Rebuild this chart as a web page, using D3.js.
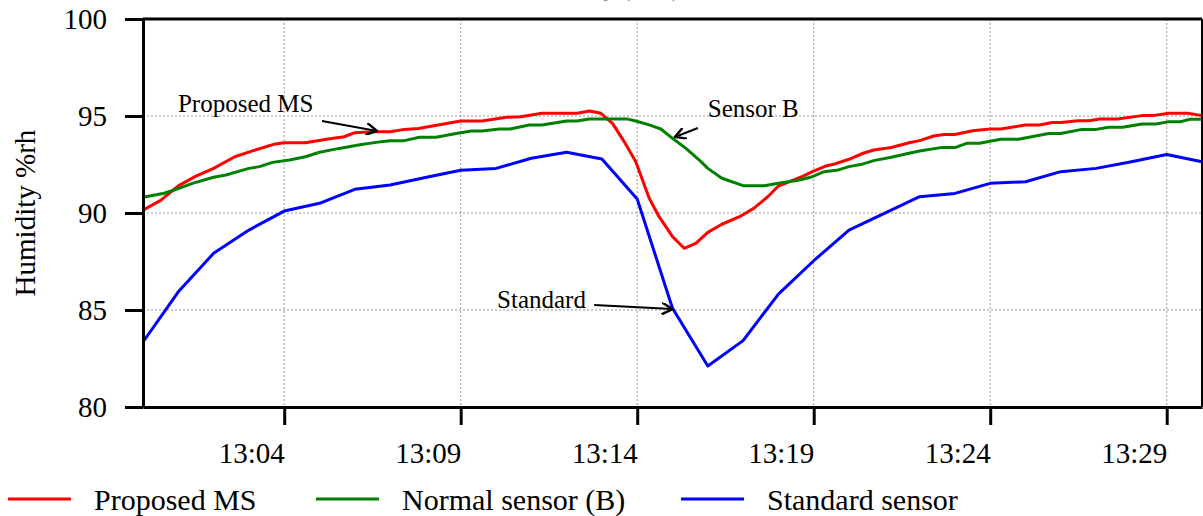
<!DOCTYPE html>
<html>
<head>
<meta charset="utf-8">
<script src="https://cdnjs.cloudflare.com/ajax/libs/d3/7.8.5/d3.min.js"></script>
<style>
  body { margin: 0; background: #fff; }
  svg text { font-family: "Liberation Serif", "Times New Roman", serif; }
</style>
</head>
<body>
<svg id="graph" width="1203" height="516"></svg>
<script>

// minutes after 13:00 and humidity values
var proposed_time = [0, 0.5, 1, 1.5, 2, 2.6, 3.1, 3.7, 4, 4.6, 5.2, 5.7, 6, 6.5, 7, 7.4, 7.8, 8.4, 9, 9.6,
  10.3, 10.7, 11.3, 12.3, 12.65, 12.97, 13.3, 13.63, 13.96, 14.34, 14.62, 15, 15.33, 15.66, 16, 16.4, 16.9,
  17.3, 17.7, 18, 18.3, 18.7, 18.96, 19.34, 19.6, 20, 20.4, 20.7, 21.2, 21.7, 22, 22.4, 22.7, 23, 23.5, 24,
  24.3, 25, 25.4, 25.75, 26, 26.5, 26.8, 27.1, 27.6, 28.3, 28.6, 29.06, 29.6, 30];
var proposed_value = [90.15, 90.65, 91.4, 91.9, 92.3, 92.9, 93.2, 93.54, 93.62, 93.62, 93.8, 93.93, 94.14, 94.19, 94.19, 94.31, 94.36, 94.55, 94.74, 94.74,
  94.93, 94.96, 95.14, 95.14, 95.26, 95.14, 94.62, 93.68, 92.64, 90.76, 89.81, 88.78, 88.18, 88.44, 89.0, 89.42, 89.81,
  90.24, 90.84, 91.39, 91.6, 91.9, 92.13, 92.42, 92.53, 92.77, 93.08, 93.25, 93.38, 93.62, 93.73, 93.97, 94.05, 94.05, 94.24, 94.33,
  94.33, 94.54, 94.54, 94.66, 94.66, 94.76, 94.76, 94.85, 94.85, 95.02, 95.02, 95.14, 95.14, 95.02];

var normal_time = [0, 0.6, 0.94, 1.4, 2, 2.35, 3, 3.3, 3.67, 4.15, 4.6, 5, 5.56, 6.1, 6.6, 7, 7.4, 7.83, 8.3, 8.87,
  9.3, 9.6, 10.1, 10.4, 10.94, 11.3, 12, 12.3, 12.64, 13.7, 13.96, 14.34, 14.67, 15, 15.38, 15.76, 16, 16.4,
  17, 17.6, 18, 18.6, 18.96, 19.3, 19.7, 20, 20.4, 20.7, 21.2, 21.7, 22, 22.6, 23, 23.35, 23.7, 24.3, 24.8,
  25.66, 26, 26.6, 27, 27.36, 27.75, 28.3, 28.7, 29.06, 29.4, 29.66, 30];
var normal_value = [90.81, 91.02, 91.22, 91.53, 91.84, 91.96, 92.3, 92.39, 92.61, 92.73, 92.9, 93.13, 93.33, 93.5, 93.64, 93.73, 93.73, 93.9, 93.9, 94.1,
  94.23, 94.23, 94.33, 94.33, 94.54, 94.54, 94.74, 94.74, 94.85, 94.85, 94.74, 94.54, 94.33, 93.85, 93.33, 92.73, 92.3, 91.79,
  91.41, 91.41, 91.53, 91.7, 91.87, 92.13, 92.22, 92.39, 92.53, 92.7, 92.87, 93.08, 93.2, 93.37, 93.37, 93.6, 93.6, 93.8, 93.8,
  94.1, 94.1, 94.31, 94.31, 94.42, 94.42, 94.59, 94.59, 94.71, 94.71, 94.83, 94.83];

var standard_time = [0, 1, 2, 3, 4, 5, 6, 7, 8, 9, 10, 11, 12, 13, 14, 15, 16, 17, 18, 19, 20,
  21, 22, 23, 24, 25, 26, 27, 28, 29, 30];
var standard_value = [83.35, 85.94, 87.92, 89.12, 90.1, 90.5, 91.22, 91.44, 91.83, 92.2, 92.3, 92.82, 93.13, 92.78, 90.72, 85.09, 82.11, 83.42, 85.82, 87.54, 89.12,
  89.98, 90.84, 91.01, 91.53, 91.61, 92.13, 92.3, 92.64, 93.02, 92.64];

var tick_labels = ['13:04', '13:09', '13:14', '13:19', '13:24', '13:29'];
var y_ticks = [80, 85, 90, 95, 100];

var series_names = ['Proposed MS', 'Normal sensor (B)', 'Standard sensor'];
var series_colors = ['#ff0000', '#008000', '#0000ff'];

// annotation text [minute, value] and arrow [from minute, from value, to minute, to value]
var note_text = ['Proposed MS', 'Sensor B', 'Standard'];
var note_pos = [[0.99, 95.21], [16.0, 94.95], [10.03, 85.1]];
var note_arrow = [[5.07, 94.74, 6.63, 94.23], [15.72, 94.38, 15.07, 93.92], [12.78, 85.26, 15.0, 85.05]];

var start = d3.timeParse("%H:%M")("13:00");
function toDate(m){
  return new Date(start.getTime() + m * 60000);
}

function draw(){
  var svg = d3.select("#graph"),
    margin = {top: 19, right: 1, bottom: 109, left: 143},
    width = 1203 - margin.left - margin.right,
    height = 516 - margin.top - margin.bottom;

  var g = svg.append("g").attr("transform", "translate(" + margin.left + "," + margin.top + ")");

  var x = d3.scaleTime()
    .domain([toDate(0), toDate(30)])
    .range([0, width]);

  var y = d3.scaleLinear()
    .domain([80, 100])
    .range([height, 0]);

  var parseTick = d3.timeParse("%H:%M");
  var x_ticks = tick_labels.map(function(d){ return parseTick(d); });

  // cut off title at the very top
  svg.append("text")
    .attr("x", 600)
    .attr("y", -4)
    .attr("text-anchor", "middle")
    .attr("font-size", 25)
    .attr("fill", "#888")
    .text("Humidity (%rh)");

  // grid
  g.append("g")
    .selectAll("line")
    .data(x_ticks)
    .enter()
    .append("line")
      .attr("x1", function(d){ return x(d); })
      .attr("x2", function(d){ return x(d); })
      .attr("y1", 0)
      .attr("y2", height)
      .attr("stroke", "#999")
      .attr("stroke-width", 1)
      .attr("stroke-dasharray", "2,2");

  g.append("g")
    .selectAll("line")
    .data([85, 90, 95])
    .enter()
    .append("line")
      .attr("x1", 0)
      .attr("x2", width)
      .attr("y1", function(d){ return y(d); })
      .attr("y2", function(d){ return y(d); })
      .attr("stroke", "#999")
      .attr("stroke-width", 1)
      .attr("stroke-dasharray", "2,2");

  // lines
  var line = d3.line()
    .x(function(d){ return x(d.date); })
    .y(function(d){ return y(d.value); });

  var all_time = [proposed_time, normal_time, standard_time];
  var all_value = [proposed_value, normal_value, standard_value];

  for (var i = 0 ; i < all_time.length ; i++){
    var data = [];
    for (var j = 0 ; j < all_time[i].length ; j++){
      data.push({date: toDate(all_time[i][j]), value: all_value[i][j]});
    }
    g.append("path")
      .datum(data)
      .attr("fill", "none")
      .attr("stroke", series_colors[i])
      .attr("stroke-width", 3)
      .attr("stroke-linejoin", "round")
      .attr("d", line);
  }

  // frame top / right
  g.append("line")
    .attr("x1", 0).attr("x2", width)
    .attr("y1", 0).attr("y2", 0)
    .attr("stroke", "#000").attr("stroke-width", 3);
  g.append("line")
    .attr("x1", width).attr("x2", width)
    .attr("y1", 0).attr("y2", height)
    .attr("stroke", "#000").attr("stroke-width", 2);

  // axes
  var xAxis = g.append("g")
    .attr("transform", "translate(0," + height + ")")
    .call(d3.axisBottom(x).tickValues(x_ticks).tickSize(18).tickSizeOuter(0).tickFormat(d3.timeFormat("%H:%M")));
  xAxis.select(".domain").attr("stroke-width", 3);
  xAxis.selectAll(".tick line").attr("stroke-width", 3);
  xAxis.selectAll(".tick text")
    .attr("font-size", 29)
    .attr("fill", "#000")
    .attr("text-anchor", "end")
    .attr("dy", 0)
    .attr("y", 56);

  var yAxis = g.append("g")
    .call(d3.axisLeft(y).tickValues(y_ticks).tickSize(18).tickSizeOuter(0));
  yAxis.select(".domain").attr("stroke-width", 3);
  yAxis.selectAll(".tick line").attr("stroke-width", 3);
  yAxis.selectAll(".tick text")
    .attr("font-size", 29)
    .attr("fill", "#000")
    .attr("x", -36);

  svg.append("text")
    .attr("transform", "translate(35," + (margin.top + height / 2) + ") rotate(-90)")
    .attr("text-anchor", "middle")
    .attr("font-size", 29)
    .text("Humidity %rh");

  // annotations
  var defs = svg.append("defs");
  defs.append("marker")
    .attr("id", "arrow")
    .attr("viewBox", "0 0 10 10")
    .attr("refX", 9)
    .attr("refY", 5)
    .attr("markerWidth", 12)
    .attr("markerHeight", 12)
    .attr("markerUnits", "userSpaceOnUse")
    .attr("orient", "auto")
    .append("path")
      .attr("d", "M0,0 L9,5 L0,10")
      .attr("fill", "none")
      .attr("stroke", "#000")
      .attr("stroke-width", 2);

  for (var k = 0 ; k < note_text.length ; k++){
    g.append("text")
      .attr("x", x(toDate(note_pos[k][0])))
      .attr("y", y(note_pos[k][1]))
      .attr("font-size", 25)
      .text(note_text[k]);
    var a = note_arrow[k];
    g.append("line")
      .attr("x1", x(toDate(a[0])))
      .attr("y1", y(a[1]))
      .attr("x2", x(toDate(a[2])))
      .attr("y2", y(a[3]))
      .attr("stroke", "#000")
      .attr("stroke-width", 2)
      .attr("marker-end", "url(#arrow)");
  }

  // legend
  var legend_x = [8, 316, 681];
  var legend = svg.append("g").attr("transform", "translate(0,499)");
  for (var n = 0 ; n < series_names.length ; n++){
    legend.append("line")
      .attr("x1", legend_x[n])
      .attr("x2", legend_x[n] + 63)
      .attr("y1", 0)
      .attr("y2", 0)
      .attr("stroke", series_colors[n])
      .attr("stroke-width", 3);
    legend.append("text")
      .attr("x", legend_x[n] + 86)
      .attr("y", 11)
      .attr("font-size", 30)
      .text(series_names[n]);
  }
}

draw();
</script>
</body>
</html>
